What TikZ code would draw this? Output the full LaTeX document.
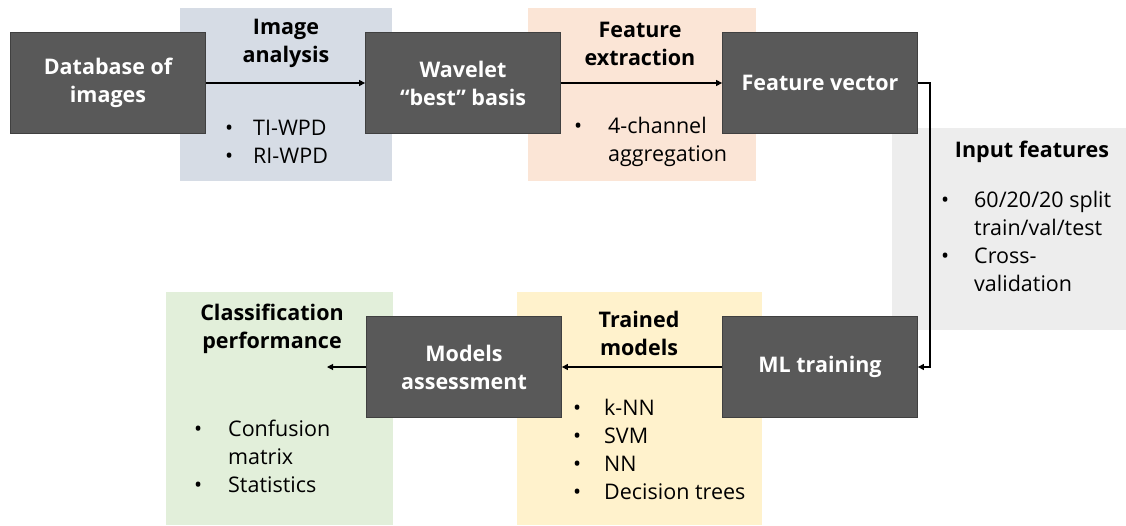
\documentclass[tikz,border=0pt]{standalone}
\usepackage{fontspec}
\setmainfont{Open Sans}
\usetikzlibrary{arrows.meta}
\definecolor{darkbox}{HTML}{595959}
\definecolor{darkedge}{HTML}{404040}
\definecolor{pblue}{HTML}{D6DCE5}
\definecolor{porange}{HTML}{FBE5D6}
\definecolor{pgray}{HTML}{EDEDED}
\definecolor{pyellow}{HTML}{FFF2CC}
\definecolor{pgreen}{HTML}{E2EFDA}
\newcommand{\bl}[1]{\begin{tabular}[t]{@{}p{#1}@{}l@{}}}
\tikzset{
  x=1pt, y=-1pt,
  stepbox/.style={draw=darkedge, line width=0.8pt, fill=darkbox, text=white,
    minimum width=195pt, minimum height=101pt, inner sep=0pt, align=center,
    font=\fontsize{21.5}{28}\selectfont\bfseries},
  panel/.style={draw=none, inner sep=0pt},
  ptitle/.style={align=center, inner sep=0pt, font=\fontsize{21.5}{28}\selectfont\bfseries},
  plist/.style={anchor=base west, inner sep=0pt, font=\fontsize{21.5}{28}\selectfont},
  conn/.style={line width=1.1pt, -{Triangle[length=6pt,width=6pt]}},
}
\begin{document}
\begin{tikzpicture}
\useasboundingbox (0,0) rectangle (1126,525);
% panels
\node[panel, fill=pblue, minimum width=212pt, minimum height=173pt] (pa) at (286,94.5) {};
\node[panel, fill=porange, minimum width=228pt, minimum height=173pt] (pb) at (642,94.5) {};
\node[panel, fill=pgray, minimum width=234pt, minimum height=202pt] (pc) at (1009,229) {};
\node[panel, fill=pyellow, minimum width=245pt, minimum height=233pt] (pd) at (639.5,408.5) {};
\node[panel, fill=pgreen, minimum width=227pt, minimum height=233pt] (pe) at (279.5,408.5) {};
% panel titles
\node[ptitle] (ta) at (286,43) {Image\\analysis};
\node[ptitle] (tb) at (640,44) {Feature\\extraction};
\node[ptitle] (tc) at (1032,152) {Input features};
\node[ptitle] (td) at (639,333) {Trained\\models};
\node[ptitle] (te) at (272,329) {Classification\\performance};
% lists
\node[plist] (la) at (225,135) {\bl{28pt}\textbullet & TI-WPD\\ \textbullet & RI-WPD\end{tabular}};
\node[plist] (lb) at (574,133) {\bl{34pt}\textbullet & 4-channel\\ & aggregation\end{tabular}};
\node[plist] (lc) at (941,207) {\bl{33pt}\textbullet & 60/20/20 split\\ & train/val/test\\ \textbullet & Cross-\\ & validation\end{tabular}};
\node[plist] (ld) at (573,415) {\bl{31pt}\textbullet & k-NN\\ \textbullet & SVM\\ \textbullet & NN\\ \textbullet & Decision trees\end{tabular}};
\node[plist] (le) at (194,436) {\bl{34pt}\textbullet & Confusion\\ & matrix\\ \textbullet & Statistics\end{tabular}};
% dark boxes
\node[stepbox] (db) at (108,83) {Database of\\images};
\node[stepbox] (wb) at (463,83) {Wavelet\\``best'' basis};
\node[stepbox] (fv) at (820,83) {Feature vector};
\node[stepbox] (ml) at (820,367) {ML training};
\node[stepbox] (ma) at (464,367) {Models\\assessment};
\coordinate (cp) at (327,367);
\coordinate (k1) at (930,83);
\coordinate (k2) at (930,367);
% connectors
\draw[conn] (db.east) -- (wb.west);
\draw[conn] (wb.east) -- (fv.west);
\draw[conn] (fv.east) -- (k1) -- (k2) -- (ml.east);
\draw[conn] (ml.west) -- (ma.east);
\draw[conn] (ma.west) -- (cp);
\end{tikzpicture}
\end{document}
